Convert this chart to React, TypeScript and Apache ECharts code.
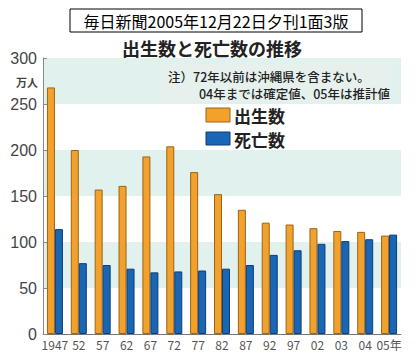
import React, { useEffect, useRef } from "react";
import * as echarts from "echarts";

const categories = ["1947", "52", "57", "62", "67", "72", "77", "82", "87", "92", "97", "02", "03", "04", "05年"];
const births = [268, 200, 157, 161, 193, 204, 176, 152, 135, 121, 119, 115, 112, 111, 107];
const deaths = [114, 77, 75, 71, 67, 68, 69, 71, 75, 86, 91, 98, 101, 103, 108];
const yTicks = [0, 50, 100, 150, 200, 250, 300];
const header = "毎日新聞2005年12月22日夕刊1面3版";
const title = "出生数と死亡数の推移";
const noteLines = ["注）72年以前は沖縄県を含まない。", "04年までは確定値、05年は推計値"];
const legendNames = ["出生数", "死亡数"];
const unitLabel = "万人";

const FONT = '"Noto Sans CJK JP", "Noto Sans", sans-serif';

export default function App() {
  const ref = useRef<HTMLDivElement>(null);
  useEffect(() => {
    if (!ref.current) return;
    const chart = echarts.init(ref.current, null, { renderer: "svg" });
    chart.setOption({
      animation: false,
      backgroundColor: "#ffffff",
      textStyle: { fontFamily: FONT },
      grid: { left: 43, right: 17, top: 58, bottom: 27 },
      xAxis: {
        type: "category",
        data: categories,
        axisLine: { lineStyle: { color: "#777", width: 1 } },
        axisTick: { show: false },
        axisLabel: { color: "#555", fontSize: 12, margin: 4, interval: 0, fontFamily: FONT },
      },
      yAxis: {
        type: "value",
        min: yTicks[0],
        max: yTicks[yTicks.length - 1],
        interval: 50,
        axisLine: { show: true, lineStyle: { color: "#888", width: 1 } },
        axisTick: { show: true, inside: true, length: 4, lineStyle: { color: "#888" } },
        axisLabel: { color: "#444", fontSize: 16, margin: 6, fontFamily: "Liberation Sans, Arial, sans-serif" },
        splitLine: { show: false },
        splitArea: { show: true, areaStyle: { color: ["rgba(255,255,255,0)", "#e1f1ed"] } },
      },
      series: [
        {
          name: legendNames[0],
          type: "bar",
          data: births,
          barWidth: 8,
          barGap: "0%",
          itemStyle: { color: "#f2a12c", borderColor: "#9a6418", borderWidth: 1 },
        },
        {
          name: legendNames[1],
          type: "bar",
          data: deaths,
          barWidth: 8,
          itemStyle: { color: "#1866b4", borderColor: "#0e3d75", borderWidth: 1 },
        },
      ],
      graphic: {
        elements: [
          { type: "rect", z: 100, shape: { x: 70, y: 9, width: 292, height: 23 }, style: { fill: "#fff", stroke: "#000", lineWidth: 1 } },
          { type: "text", z: 101, x: 216, y: 21, style: { text: header, font: `16px ${FONT}`, fill: "#000", textAlign: "center", textVerticalAlign: "middle" } },
          { type: "text", z: 100, x: 212, y: 48, style: { text: title, font: `bold 18px ${FONT}`, fill: "#222", textAlign: "center", textVerticalAlign: "middle" } },
          { type: "text", z: 100, x: 27, y: 82, style: { text: unitLabel, font: `bold 11px ${FONT}`, fill: "#444", textAlign: "center", textVerticalAlign: "middle" } },
          { type: "rect", z: 99, shape: { x: 160, y: 64, width: 231, height: 38 }, style: { fill: "#e6f1ee" } },
          { type: "text", z: 100, x: 168, y: 76, style: { text: noteLines[0], font: `500 12.5px ${FONT}`, fill: "#222", textAlign: "left", textVerticalAlign: "middle" } },
          { type: "text", z: 100, x: 390, y: 93, style: { text: noteLines[1], font: `500 12.5px ${FONT}`, fill: "#222", textAlign: "right", textVerticalAlign: "middle" } },
          { type: "rect", z: 100, shape: { x: 206, y: 108, width: 24, height: 14 }, style: { fill: "#f2a12c", stroke: "#9a6418", lineWidth: 1 } },
          { type: "text", z: 100, x: 234, y: 115, style: { text: legendNames[0], font: `bold 17px ${FONT}`, fill: "#222", textAlign: "left", textVerticalAlign: "middle" } },
          { type: "rect", z: 100, shape: { x: 206, y: 132, width: 24, height: 13 }, style: { fill: "#1866b4", stroke: "#0e3d75", lineWidth: 1 } },
          { type: "text", z: 100, x: 234, y: 139, style: { text: legendNames[1], font: `bold 17px ${FONT}`, fill: "#222", textAlign: "left", textVerticalAlign: "middle" } },
        ],
      },
    });
    return () => chart.dispose();
  }, []);
  return <div ref={ref} style={{ position: "fixed", left: 0, top: 0, width: 418, height: 361 }} />;
}
